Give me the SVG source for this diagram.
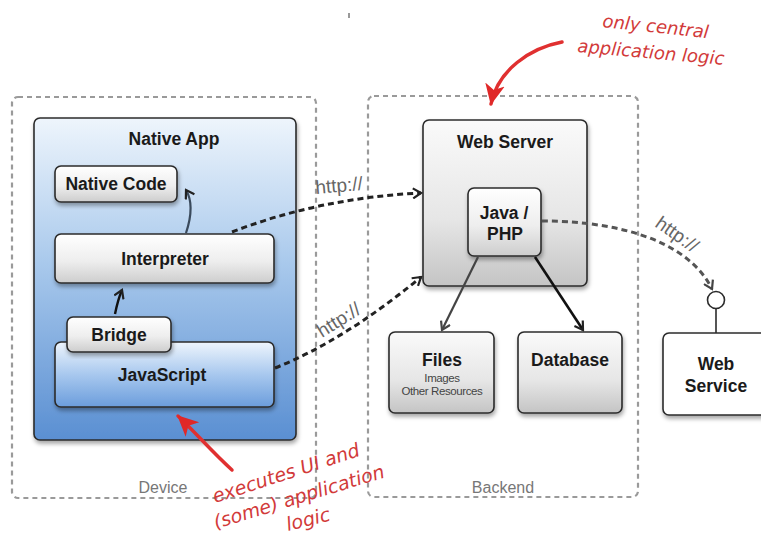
<svg xmlns="http://www.w3.org/2000/svg" width="761" height="538" viewBox="0 0 761 538">
  <style>
    .zone { fill: none; stroke: #9a9a9a; stroke-width: 2.2; stroke-dasharray: 5 4; }
    .zlabel { font-family: "Liberation Sans", Arial, sans-serif; font-size: 16px; fill: #777; text-anchor: middle; }
    .box { stroke: #2b2b2b; stroke-width: 1.6; }
    .t { font-family: "Liberation Sans", Arial, sans-serif; font-weight: bold; font-size: 17.5px; fill: #1a1a1a; text-anchor: middle; }
    .small { font-family: "Liberation Sans", Arial, sans-serif; font-size: 11.5px; fill: #444; text-anchor: middle; letter-spacing: -0.4px; }
    .http { fill: none; stroke: #222; stroke-width: 3; stroke-dasharray: 6 4; }
    .http2 { fill: none; stroke: #555; stroke-width: 3; stroke-dasharray: 6 4; }
    .hlabel { font-family: "Liberation Sans", Arial, sans-serif; font-size: 19px; fill: #666; }
    .note { font-family: "DejaVu Sans", "Liberation Sans", sans-serif; font-style: italic; font-size: 18px; fill: #d23a3a; }
    .red { fill: none; stroke: #e03030; stroke-width: 3.5; stroke-linecap: round; }
  </style>
  <defs>
    <linearGradient id="blueBg" x1="0" y1="0" x2="0" y2="1">
      <stop offset="0" stop-color="#eef5fc"/>
      <stop offset="0.45" stop-color="#a9c9ec"/>
      <stop offset="1" stop-color="#5a8fd2"/>
    </linearGradient>
    <linearGradient id="jsBg" x1="0" y1="0" x2="0" y2="1">
      <stop offset="0" stop-color="#eef5fd"/>
      <stop offset="0.5" stop-color="#a8c8ee"/>
      <stop offset="1" stop-color="#6b9ddc"/>
    </linearGradient>
    <linearGradient id="grayBg" x1="0" y1="0" x2="0" y2="1">
      <stop offset="0" stop-color="#fafafa"/>
      <stop offset="0.6" stop-color="#e6e6e6"/>
      <stop offset="1" stop-color="#c4c4c4"/>
    </linearGradient>
    <linearGradient id="smallBg" x1="0" y1="0" x2="0" y2="1">
      <stop offset="0" stop-color="#ffffff"/>
      <stop offset="0.55" stop-color="#eeeeee"/>
      <stop offset="1" stop-color="#cdcdcd"/>
    </linearGradient>
    <filter id="shadow" x="-10%" y="-10%" width="125%" height="130%">
      <feDropShadow dx="1" dy="3" stdDeviation="2" flood-color="#000" flood-opacity="0.35"/>
    </filter>
    <marker id="open" viewBox="0 0 12 12" refX="10" refY="6" markerWidth="12" markerHeight="12" markerUnits="userSpaceOnUse" orient="auto">
      <path d="M2,1 L10,6 L2,11" fill="none" stroke="#222" stroke-width="2.2"/>
    </marker>
    <marker id="openGray" viewBox="0 0 12 12" refX="10" refY="6" markerWidth="12" markerHeight="12" markerUnits="userSpaceOnUse" orient="auto">
      <path d="M2,1 L10,6 L2,11" fill="none" stroke="#444" stroke-width="2.2"/>
    </marker>
    <marker id="redHead" viewBox="0 0 20 20" refX="18" refY="10" markerWidth="22" markerHeight="22" markerUnits="userSpaceOnUse" orient="auto">
      <path d="M0,1 L19,10 L0,19 L5,10 Z" fill="#e02828"/>
    </marker>
  </defs>

  <rect width="761" height="538" fill="#ffffff"/>
  <line x1="349" y1="13" x2="349" y2="18" stroke="#555" stroke-width="1.2"/>

  <!-- zones -->
  <g id="device">
    <rect class="zone" x="12" y="97" width="304" height="401" rx="6"/>
    <text class="zlabel" x="163" y="493">Device</text>
  </g>
  <g id="backend">
    <rect class="zone" x="368" y="96" width="270" height="401" rx="6"/>
    <text class="zlabel" x="503" y="493">Backend</text>
  </g>

  <!-- device side -->
  <g id="native-app">
    <rect class="box" x="34" y="118" width="262" height="322" rx="6" fill="url(#blueBg)" filter="url(#shadow)"/>
    <text class="t" x="174" y="145">Native App</text>
  </g>
  <g id="native-code">
    <rect class="box" x="55" y="166" width="122" height="36" rx="6" fill="url(#smallBg)" filter="url(#shadow)"/>
    <text class="t" x="116" y="190">Native Code</text>
  </g>
  <g id="interpreter">
    <rect class="box" x="55" y="234" width="219" height="49" rx="6" fill="url(#smallBg)" filter="url(#shadow)"/>
    <text class="t" x="165" y="265">Interpreter</text>
  </g>
  <g id="javascript">
    <rect class="box" x="55" y="342" width="219" height="65" rx="6" fill="url(#jsBg)" filter="url(#shadow)"/>
    <text class="t" x="162" y="381">JavaScript</text>
  </g>
  <g id="bridge">
    <rect class="box" x="67" y="317" width="104" height="35" rx="6" fill="url(#smallBg)" filter="url(#shadow)"/>
    <text class="t" x="119" y="341">Bridge</text>
  </g>

  <!-- backend side -->
  <g id="web-server">
    <rect class="box" x="423" y="120" width="164" height="166" rx="6" fill="url(#grayBg)" filter="url(#shadow)"/>
    <text class="t" x="505" y="148">Web Server</text>
  </g>
  <g id="java-php">
    <rect class="box" x="468" y="188" width="73" height="68" rx="6" fill="url(#smallBg)" filter="url(#shadow)"/>
    <text class="t" x="504" y="219">Java /</text>
    <text class="t" x="505" y="240">PHP</text>
  </g>
  <g id="files">
    <rect class="box" x="389" y="332" width="105" height="81" rx="6" fill="url(#grayBg)" filter="url(#shadow)"/>
    <text class="t" x="442" y="366">Files</text>
    <text class="small" x="442" y="382">Images</text>
    <text class="small" x="442" y="395">Other Resources</text>
  </g>
  <g id="database">
    <rect class="box" x="518" y="332" width="104" height="81" rx="6" fill="url(#grayBg)" filter="url(#shadow)"/>
    <text class="t" x="570" y="366">Database</text>
  </g>
  <g id="web-service">
    <rect class="box" x="663" y="333" width="108" height="82" rx="6" fill="#ffffff" filter="url(#shadow)"/>
    <text class="t" x="716" y="370">Web</text>
    <text class="t" x="716" y="392">Service</text>
    <line x1="716" y1="309" x2="716" y2="333" stroke="#2b2b2b" stroke-width="1.6"/>
    <circle cx="716" cy="300" r="8.5" fill="#ffffff" stroke="#2b2b2b" stroke-width="1.6"/>
  </g>

  <!-- connectors -->
  <g id="connectors">
    <path d="M186,233 C192,215 192,200 186,190" fill="none" stroke="#3a4a5c" stroke-width="2.2" marker-end="url(#open)"/>
    <path d="M115,314 C117,304 119,297 122,290" fill="none" stroke="#111" stroke-width="2.4" marker-end="url(#open)"/>
    <path d="M478,257 L442,330" fill="none" stroke="#444" stroke-width="2.2" marker-end="url(#openGray)"/>
    <path d="M535,257 L583,330" fill="none" stroke="#111" stroke-width="2.6" marker-end="url(#open)"/>

    <path class="http" d="M232,232 Q320,198 421,193" marker-end="url(#open)"/>
    <path class="http" d="M275,368 Q345,340 421,277" marker-end="url(#open)"/>
    <path class="http2" d="M542,221 C605,221 685,235 712,289" marker-end="url(#openGray)"/>

    <text class="hlabel" x="316" y="194" transform="rotate(-5 316 194)">http://</text>
    <text class="hlabel" x="322" y="338" transform="rotate(-32 322 338)">http://</text>
    <text class="hlabel" x="654" y="226" transform="rotate(35 654 226)">http://</text>
  </g>

  <!-- handwritten notes -->
  <g id="note-backend">
    <path class="red" d="M562,42 C530,48 498,70 491,104" marker-end="url(#redHead)"/>
    <text class="note" x="602" y="27" transform="rotate(6 602 27)">only central</text>
    <text class="note" x="577" y="52" transform="rotate(5 577 52)">application logic</text>
  </g>
  <g id="note-device">
    <path class="red" d="M232,470 C212,452 195,432 178,416" marker-end="url(#redHead)"/>
    <text class="note" x="215" y="503" style="font-size:19px" transform="rotate(-18 215 503)">executes UI and</text>
    <text class="note" x="216" y="529" style="font-size:19px" transform="rotate(-17 216 529)">(some) application</text>
    <text class="note" x="288" y="531" style="font-size:19px" transform="rotate(-14 288 531)">logic</text>
  </g>
</svg>
